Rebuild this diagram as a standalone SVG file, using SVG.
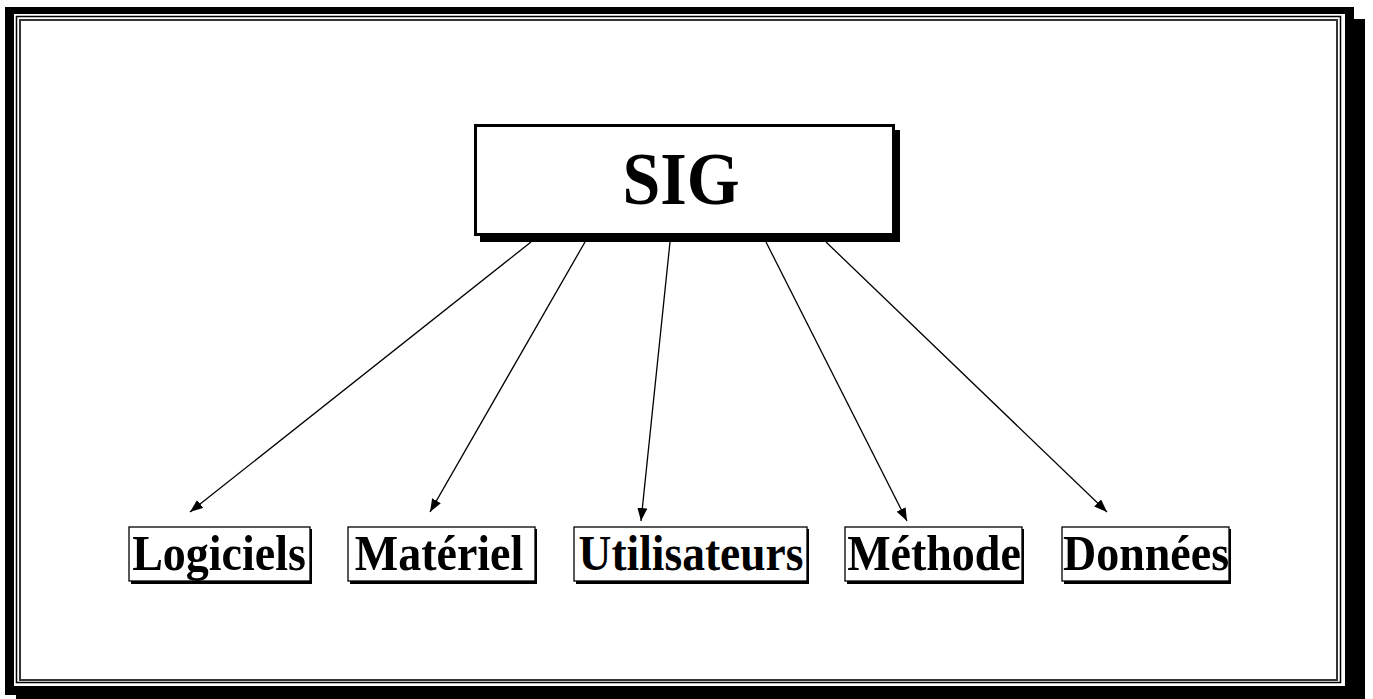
<svg xmlns="http://www.w3.org/2000/svg" width="1373" height="699" viewBox="0 0 1373 699">
<style>
.lbl{font-family:"Liberation Serif","Times New Roman",serif;font-weight:bold;fill:#000;text-anchor:middle}
.box{fill:#fff;stroke:#000;stroke-width:1.3}
.shadow{fill:#000}
.conn{stroke:#000;stroke-width:1.3;fill:none;marker-end:url(#arr)}
</style>
<defs>
<marker id="arr" markerUnits="userSpaceOnUse" markerWidth="14" markerHeight="10" refX="13" refY="5" orient="auto">
<path d="M0,0 L13,5 L0,10 z" fill="#000"/>
</marker>
</defs>
<rect width="1373" height="699" fill="#fff"/>
<g id="frame">
<rect x="16" y="19" width="1349" height="680" fill="#000"/>
<rect x="5" y="7" width="1349" height="688" fill="#000"/>
<rect x="14" y="14" width="1331" height="672" fill="#fff"/>
<rect x="16.5" y="16.5" width="1324" height="666" fill="none" stroke="#000" stroke-width="1.5"/>
<rect x="20" y="20" width="1317" height="660" fill="#fff" stroke="#333" stroke-width="2"/>
</g>
<g id="connectors">
<line class="conn" x1="531" y1="242" x2="190" y2="512"/>
<line class="conn" x1="585" y1="242" x2="430" y2="512"/>
<line class="conn" x1="670" y1="242" x2="641" y2="521"/>
<line class="conn" x1="766" y1="242" x2="907" y2="521"/>
<line class="conn" x1="826" y1="242" x2="1107" y2="512"/>
</g>
<g id="node-sig">
<rect x="480" y="130" width="420" height="112" class="shadow"/>
<rect x="475.5" y="125.5" width="418" height="109" fill="#fff" stroke="#000" stroke-width="3"/>
<text class="lbl" font-size="68" transform="translate(681,204) scale(1,1.09)">SIG</text>
</g>
<g id="node-logiciels">
<rect x="131" y="529" width="181" height="55" class="shadow"/>
<rect x="129" y="527" width="181" height="54" class="box"/>
<text class="lbl" font-size="46" transform="translate(219,570) scale(1,1.1)">Logiciels</text>
</g>
<g id="node-materiel">
<rect x="350" y="529" width="187" height="55" class="shadow"/>
<rect x="348" y="527" width="187" height="54" class="box"/>
<text class="lbl" font-size="46" transform="translate(439,570) scale(1,1.1)">Matériel</text>
</g>
<g id="node-utilisateurs">
<rect x="576" y="529" width="233" height="55" class="shadow"/>
<rect x="574" y="527" width="233" height="54" class="box"/>
<text class="lbl" font-size="45.5" transform="translate(691,570) scale(1,1.1)">Utilisateurs</text>
</g>
<g id="node-methode">
<rect x="847" y="529" width="177" height="55" class="shadow"/>
<rect x="845" y="527" width="177" height="54" class="box"/>
<text class="lbl" font-size="46" transform="translate(934,570) scale(1,1.1)">Méthode</text>
</g>
<g id="node-donnees">
<rect x="1064" y="529" width="167" height="55" class="shadow"/>
<rect x="1062" y="527" width="167" height="54" class="box"/>
<text class="lbl" font-size="46" transform="translate(1146,570) scale(1,1.1)">Données</text>
</g>
</svg>
